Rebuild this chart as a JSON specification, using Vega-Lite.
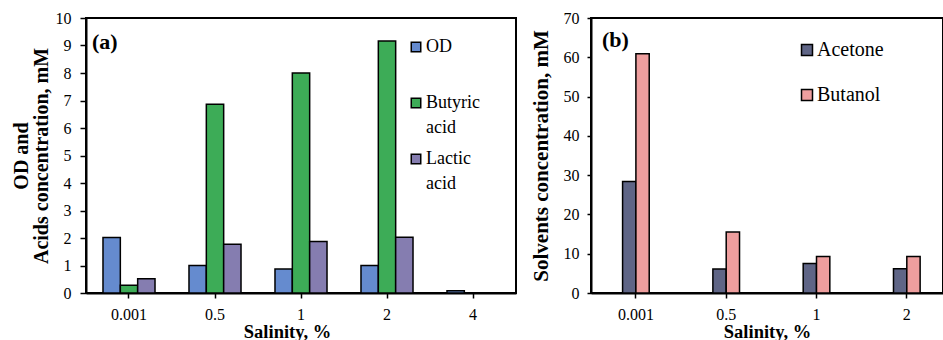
{
  "$schema": "https://vega.github.io/schema/vega-lite/v6.json",
  "background": "white",
  "padding": {"left": 10, "top": 9, "right": 0, "bottom": 0},
  "spacing": 11,
  "resolve": {"scale": {"color": "independent", "x": "independent", "xOffset": "independent", "y": "independent"}, "legend": {"color": "independent"}},
  "config": {
    "font": "Times New Roman, Liberation Serif, serif",
    "view": {"stroke": "black", "strokeWidth": 2},
    "scale": {"offsetBandPaddingInner": 0, "offsetBandPaddingOuter": 0},
    "axis": {
      "labelFont": "Times New Roman, Liberation Serif, serif", "labelFontSize": 16, "labelColor": "black",
      "titleFont": "Times New Roman, Liberation Serif, serif", "titleFontSize": 18.5, "titleFontWeight": "bold", "titleColor": "black",
      "titleLineHeight": 20,
      "domainColor": "black", "domainWidth": 2, "tickColor": "black", "tickWidth": 1.5, "grid": false
    },
    "legend": {"labelFont": "Times New Roman, Liberation Serif, serif", "labelColor": "black", "padding": 0}
  },
  "hconcat": [
    {
      "width": 430,
      "height": 275,
      "title": {"text": "(a)", "frame": "group", "anchor": "start", "font": "Times New Roman, Liberation Serif, serif", "fontSize": 22, "fontWeight": "bold", "color": "black", "dx": 6, "dy": 44, "offset": 0},
      "data": {"values": [
        {"salinity": "0.001", "series": "OD", "value": 2.02},
        {"salinity": "0.001", "series": "Butyric acid", "value": 0.28},
        {"salinity": "0.001", "series": "Lactic acid", "value": 0.52},
        {"salinity": "0.5", "series": "OD", "value": 1.0},
        {"salinity": "0.5", "series": "Butyric acid", "value": 6.86},
        {"salinity": "0.5", "series": "Lactic acid", "value": 1.77},
        {"salinity": "1", "series": "OD", "value": 0.87},
        {"salinity": "1", "series": "Butyric acid", "value": 8.0},
        {"salinity": "1", "series": "Lactic acid", "value": 1.87},
        {"salinity": "2", "series": "OD", "value": 1.0},
        {"salinity": "2", "series": "Butyric acid", "value": 9.16},
        {"salinity": "2", "series": "Lactic acid", "value": 2.03},
        {"salinity": "4", "series": "OD", "value": 0.08}
      ]},
      "mark": {"type": "bar", "stroke": "black", "strokeWidth": 1.5},
      "encoding": {
        "x": {"field": "salinity", "type": "nominal", "sort": ["0.001", "0.5", "1", "2", "4"],
          "scale": {"paddingInner": 0.395, "paddingOuter": 0.1975},
          "axis": {"title": "Salinity, %", "labelAngle": 0, "tickSize": 5, "labelPadding": 8, "titlePadding": 0, "titleX": 201}},
        "xOffset": {"field": "series", "type": "nominal", "sort": ["OD", "Butyric acid", "Lactic acid"], "scale": {"paddingInner": 0, "paddingOuter": 0}},
        "y": {"field": "value", "type": "quantitative", "scale": {"domain": [0, 10], "nice": false},
          "axis": {"values": [0, 1, 2, 3, 4, 5, 6, 7, 8, 9, 10], "title": ["OD and", "Acids  concentration, mM"], "titleFontSize": 20, "tickSize": 6, "labelPadding": 9, "titlePadding": 4}},
        "color": {"field": "series", "type": "nominal",
          "scale": {"domain": ["OD", "Butyric acid", "Lactic acid"], "range": ["#658bcf", "#3dac57", "#857db0"]},
          "legend": {"orient": "none", "legendX": 321, "legendY": 20, "title": null, "labelFont": "Times New Roman, Liberation Serif, serif", "labelFontSize": 18, "labelBaseline": "middle",
            "labelExpr": "datum.label == 'OD' ? ['OD', ''] : split(datum.label, ' ')",
            "symbolType": "square", "symbolSize": 90, "symbolStrokeColor": "black", "symbolStrokeWidth": 1.5,
            "rowPadding": 13, "labelOffset": 1, "labelLimit": 200,
            "encode": {"labels": {"update": {"lineHeight": {"value": 25}}}}}}
      }
    },
    {
      "width": 352,
      "height": 275,
      "title": {"text": "(b)", "frame": "group", "anchor": "start", "font": "Times New Roman, Liberation Serif, serif", "fontSize": 22, "fontWeight": "bold", "color": "black", "dx": 11, "dy": 42, "offset": 0},
      "data": {"values": [
        {"salinity": "0.001", "series": "Acetone", "value": 28.4},
        {"salinity": "0.001", "series": "Butanol", "value": 60.9},
        {"salinity": "0.5", "series": "Acetone", "value": 6.1},
        {"salinity": "0.5", "series": "Butanol", "value": 15.5},
        {"salinity": "1", "series": "Acetone", "value": 7.5},
        {"salinity": "1", "series": "Butanol", "value": 9.3},
        {"salinity": "2", "series": "Acetone", "value": 6.2},
        {"salinity": "2", "series": "Butanol", "value": 9.3}
      ]},
      "mark": {"type": "bar", "stroke": "black", "strokeWidth": 1.5},
      "encoding": {
        "x": {"field": "salinity", "type": "nominal", "sort": ["0.001", "0.5", "1", "2"],
          "scale": {"paddingInner": 0.705, "paddingOuter": 0.3015, "align": 0.58},
          "axis": {"title": "Salinity, %", "labelAngle": 0, "tickSize": 5, "labelPadding": 8, "titlePadding": 0}},
        "xOffset": {"field": "series", "type": "nominal", "sort": ["Acetone", "Butanol"], "scale": {"paddingInner": 0, "paddingOuter": 0}},
        "y": {"field": "value", "type": "quantitative", "scale": {"domain": [0, 70], "nice": false},
          "axis": {"values": [0, 10, 20, 30, 40, 50, 60, 70], "title": "Solvents concentration, mM", "titleFontSize": 21, "tickSize": 4, "labelPadding": 8, "titlePadding": 12}},
        "color": {"field": "series", "type": "nominal",
          "scale": {"domain": ["Acetone", "Butanol"], "range": ["#5f6586", "#ee9e9e"]},
          "legend": {"orient": "none", "legendX": 206, "legendY": 22, "title": null, "labelFont": "Times New Roman, Liberation Serif, serif", "labelFontSize": 20,
            "symbolType": "square", "symbolSize": 121, "symbolStrokeColor": "black", "symbolStrokeWidth": 1.5,
            "rowPadding": 25, "labelOffset": 0}}
      }
    }
  ]
}
